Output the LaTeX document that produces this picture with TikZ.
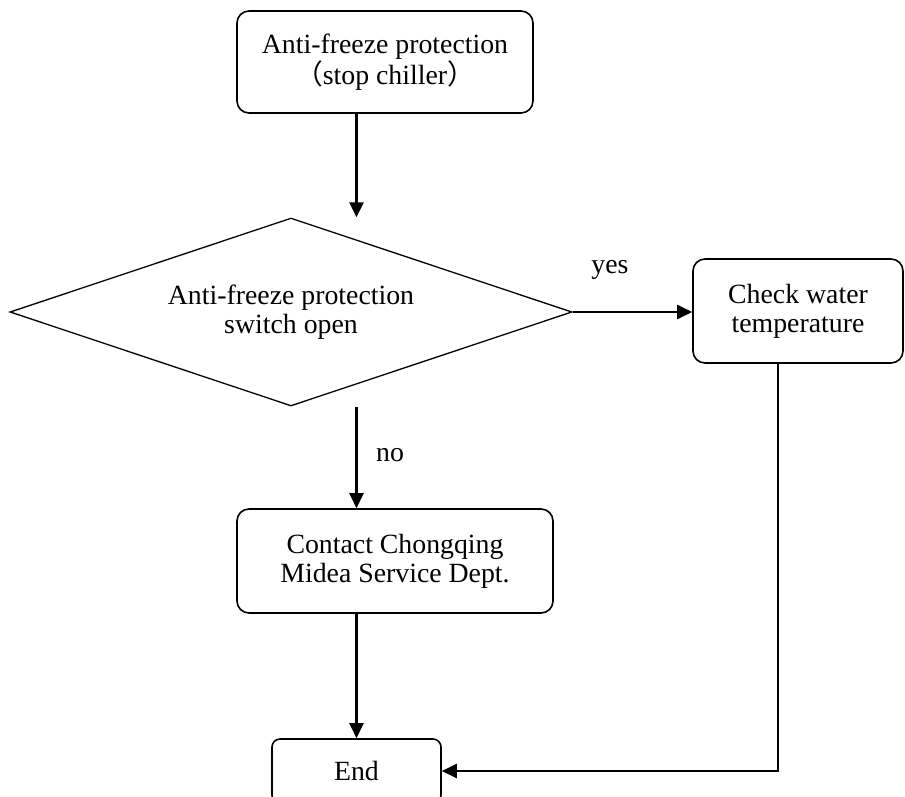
\documentclass[tikz,border=0pt]{standalone}
\usepackage{fontspec}
\setmainfont{Liberation Serif}
\newfontfamily\cjk{Noto Sans CJK SC}
\usetikzlibrary{shapes.geometric,arrows.meta}

\begin{document}
\begin{tikzpicture}[
        x=1pt, y=-1pt,
        every node/.style={font=\fontsize{27.8}{29}\selectfont},
        stepbox/.style={rectangle, rounded corners=12pt,
            minimum height=104pt, inner sep=0pt,
            align=center, text centered, draw, line width=1.6pt},
        decision/.style={diamond, aspect=2.99,
            minimum width=562pt, minimum height=188pt,
            inner sep=0pt, align=center, draw, line width=1.3pt},
        arrow/.style={-{Triangle[length=15pt,width=14pt]}, line width=2.4pt},
        label/.style={inner sep=0pt}
      ]
      \useasboundingbox (0,0) rectangle (905,796);
      \clip (0,0) rectangle (905,796);
      \node[stepbox, minimum width=296pt, minimum height=102pt] (stop) at (385,62)
      {Anti-freeze protection\\{\cjk （}stop chiller{\cjk ）}};
      \node[decision] (switch) at (291,312)
      {Anti-freeze protection\\switch open};
      \node[stepbox, minimum width=210pt] (check) at (798,311)
      {Check water\\temperature};
      \node[stepbox, minimum width=316pt] (contact) at (395,561)
      {Contact Chongqing\\Midea Service Dept.};
      \node[stepbox, rounded corners=8pt, minimum width=169pt,
        minimum height=64pt] (end) at (356.5,771) {End};
      \node[label] (yes) at (610,270) {yes};
      \node[label] (no) at (390,455) {no};
      \coordinate (drop) at (778,771);
      \draw[arrow] (stop.south -| end)    -- (switch.north -| end);
      \draw[arrow] (switch.east)          -- (switch.east -| check.west);
      \draw[arrow] (switch.south -| end)  -- (contact.north -| end);
      \draw[arrow] (contact.south -| end) -- (end.north);
      \draw[arrow] (check.south -| drop)  -- (drop) -- (end.east);
    \end{tikzpicture}
\end{document}
